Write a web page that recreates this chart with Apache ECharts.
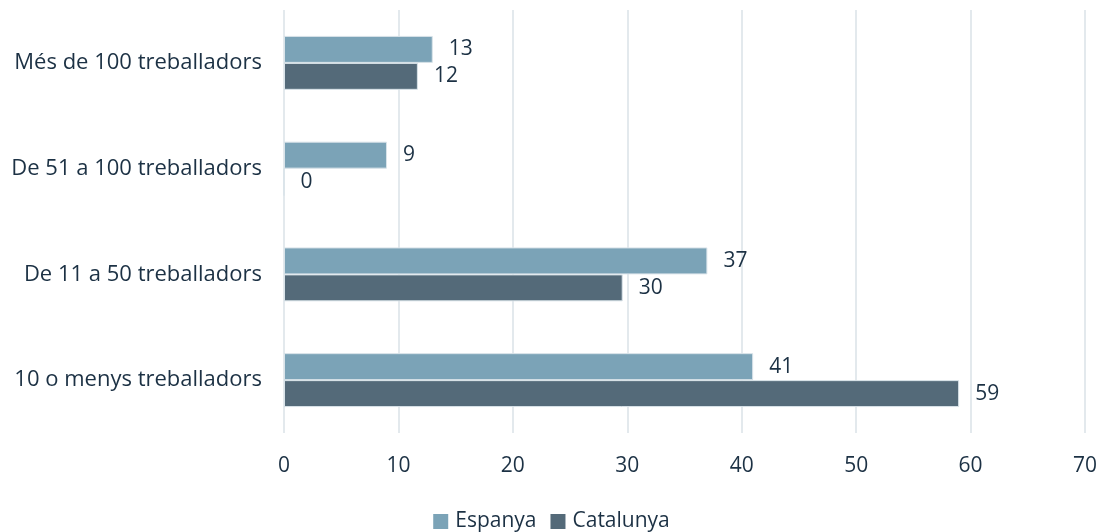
<!DOCTYPE html>
<html>
<head>
<meta charset="utf-8">
<script src="https://cdn.jsdelivr.net/npm/echarts@6/dist/echarts.min.js"></script>
<style>
    html, body { margin: 0; padding: 0; background: #fff; }
    #chart { width: 1103px; height: 532px; }
</style>
</head>
<body>
<div id="chart"></div>
<script>
// categories, top to bottom
var categories = ['Més de 100 treballadors', 'De 51 a 100 treballadors', 'De 11 a 50 treballadors', '10 o menys treballadors'];
var espanya = [13, 9, 37, 41];
var catalunya = [11.7, 0, 29.6, 59];
var xTicks = [0, 10, 20, 30, 40, 50, 60, 70];

var textColor = '#1c3144';
var fontFamily = 'Open Sans';
var fontSize = 21;

var chart = echarts.init(document.getElementById('chart'));

function barLabel() {
    return {
        show: true,
        position: 'right',
        distance: 16,
        color: textColor,
        fontSize: fontSize,
        fontFamily: fontFamily,
        formatter: function (p) { return Math.round(p.value); }
    };
}

var option = {
    animation: false,
    textStyle: { fontFamily: fontFamily },
    grid: {
        left: 284,
        right: 18,
        top: 10,
        bottom: 99
    },
    legend: {
        data: ['Espanya', 'Catalunya'],
        top: 506,
        left: 'center',
        icon: 'rect',
        itemWidth: 15,
        itemHeight: 15,
        itemGap: 14,
        itemStyle: { borderWidth: 0 },
        textStyle: { color: textColor, fontSize: fontSize, fontFamily: fontFamily, padding: [0, 0, 0, 2] }
    },
    xAxis: {
        type: 'value',
        min: xTicks[0],
        max: xTicks[xTicks.length - 1],
        interval: 10,
        axisLine: { show: false },
        axisTick: { show: false },
        splitLine: { lineStyle: { color: '#e3e9ed', width: 2 } },
        axisLabel: { color: textColor, fontSize: fontSize, margin: 23, fontFamily: fontFamily }
    },
    yAxis: {
        type: 'category',
        inverse: true,
        data: categories,
        axisLine: { show: false },
        axisTick: { show: false },
        axisLabel: { color: textColor, fontSize: 22, margin: 22, fontFamily: fontFamily }
    },
    series: [
        {
            name: 'Espanya',
            type: 'bar',
            data: espanya,
            barGap: '0%',
            barCategoryGap: '49%',
            itemStyle: { color: '#7ba3b7', borderColor: '#d9e3e9', borderWidth: 1 },
            label: barLabel()
        },
        {
            name: 'Catalunya',
            type: 'bar',
            data: catalunya,
            itemStyle: { color: '#546a79', borderColor: '#d9e3e9', borderWidth: 1 },
            label: barLabel()
        }
    ]
};

chart.setOption(option);
</script>
</body>
</html>
